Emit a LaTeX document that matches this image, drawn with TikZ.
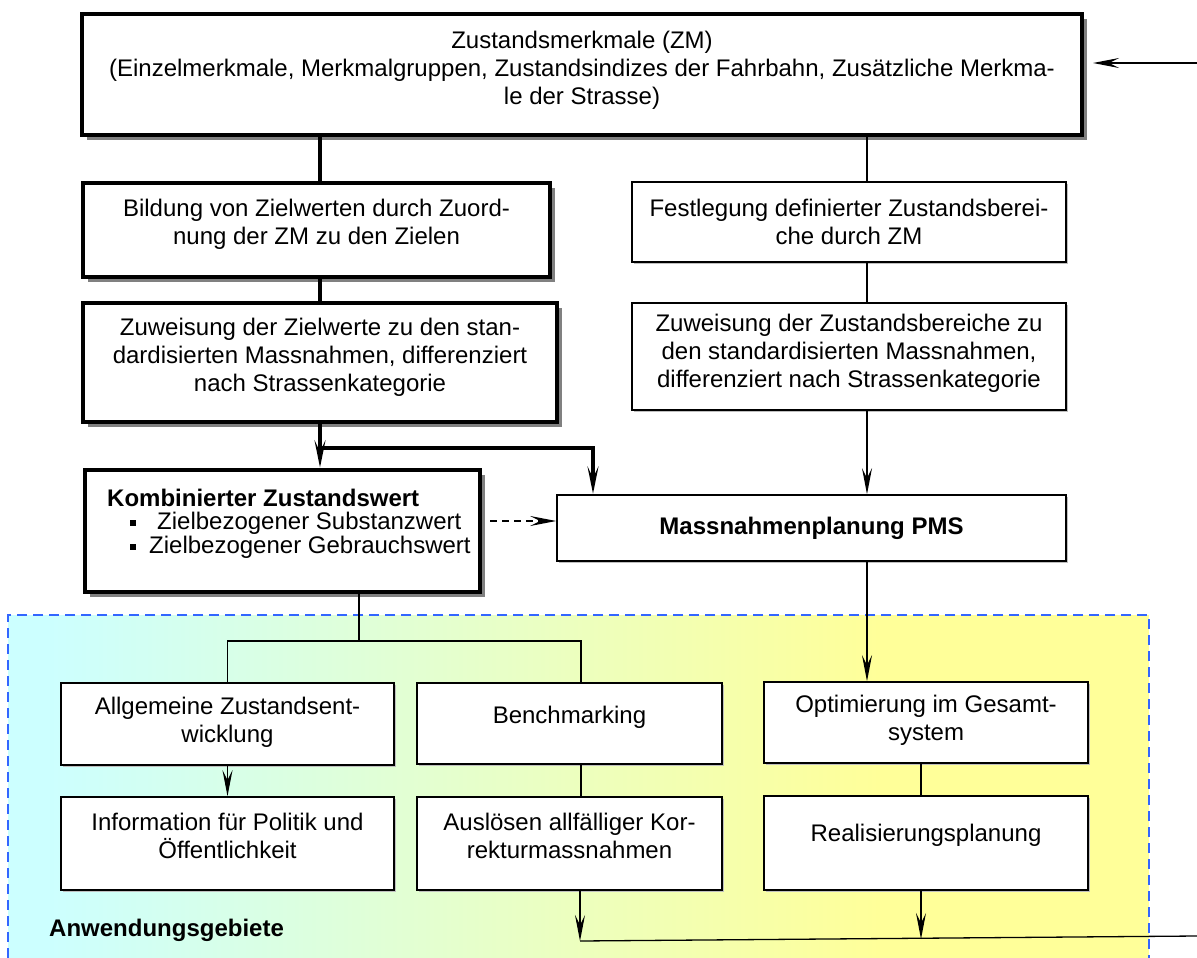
\documentclass[tikz,border=0pt]{standalone}
\usepackage{fontspec}
\setmainfont{Liberation Sans}
\usetikzlibrary{arrows.meta,calc,shadows}
\definecolor{zcyan}{HTML}{CCFFFF}
\definecolor{zgelb}{HTML}{FFFF99}
\definecolor{zblau}{HTML}{3366FF}
\definecolor{zschatten}{HTML}{808080}

\begin{document}
\begin{tikzpicture}[x=1pt,y=-1pt,
  txt/.style={font=\fontsize{24}{28}\selectfont,align=center,inner sep=0pt},
  btxt/.style={font=\fontsize{24}{28}\selectfont\bfseries,inner sep=0pt},
  dickbox/.style={draw,line width=4pt,fill=white,inner sep=0pt,
    general shadow={fill=zschatten,shadow xshift=5pt,shadow yshift=-5pt}},
  duennbox/.style={draw,line width=1.6pt,fill=white,inner sep=0pt,
    general shadow={fill=zschatten!50,shadow xshift=2pt,shadow yshift=-2pt}},
  dicklinie/.style={line width=4pt},
  duennlinie/.style={line width=1.3pt},
  pfeil/.style={-{Stealth[length=26pt,width=10pt,inset=10pt]}}]
  \useasboundingbox (0,0) rectangle (1197,958);
  \clip (0,0) rectangle (1197,958);
  % Anwendungsgebiete: Hintergrund mit Verlauf
  \fill[zcyan] (8,615) rectangle (45,965); % linker Rand, cyan
  \shade[left color=zcyan,right color=zgelb] (45,615) rectangle (880,965); % Verlauf
  \fill[zgelb] (880,615) rectangle (1149,965); % rechter Teil, gelb
  \draw[zblau,line width=2pt,dash pattern=on 10pt off 6pt]
    (1149,965) -- (1149,615) -- (8,615) -- (8,965); % gestrichelter Rahmen
  \node[btxt,anchor=west] (anw) at (49,930) {Anwendungsgebiete};

  % obere Box
  \node[dickbox,minimum width=1000pt,minimum height=121pt] (zm) at (582,74.5) {};
  \node[txt] (zm-t) at (582,70) {Zustandsmerkmale (ZM)\\(Einzelmerkmale, Merkmalgruppen, Zustandsindizes der Fahrbahn, Zusätzliche Merkma-\\le der Strasse)};

  % linke Spalte (fett)
  \node[dickbox,minimum width=467pt,minimum height=94pt] (bild) at (316.5,230) {};
  \node[txt] (bild-t) at (316.5,224) {Bildung von Zielwerten durch Zuord-\\nung der ZM zu den Zielen};
  \node[dickbox,minimum width=474pt,minimum height=119pt] (zuwz) at (320,362.5) {};
  \node[txt] (zuwz-t) at (320,357) {Zuweisung der Zielwerte zu den stan-\\dardisierten Massnahmen, differenziert\\nach Strassenkategorie};
  \node[dickbox,minimum width=395pt,minimum height=122pt] (komb) at (282.5,531) {};
  \node[btxt,anchor=west] (komb-t) at (107,498) {Kombinierter Zustandswert};
  \node[fill,minimum size=6pt,inner sep=0pt] (komb-p1) at (133,523) {}; % Aufzählungszeichen
  \node[fill,minimum size=6pt,inner sep=0pt] (komb-p2) at (133,547) {};
  \node[txt,anchor=west] (komb-b1) at (157,523) {Zielbezogener Substanzwert};
  \node[txt,anchor=west] (komb-b2) at (149,547) {Zielbezogener Gebrauchswert};

  % rechte Spalte (dünn)
  \node[duennbox,minimum width=434pt,minimum height=80pt] (fest) at (849,222) {};
  \node[txt] (fest-t) at (849,222) {Festlegung definierter Zustandsberei-\\che durch ZM};
  \node[duennbox,minimum width=434pt,minimum height=107pt] (zuwb) at (849,356.5) {};
  \node[txt] (zuwb-t) at (849,353) {Zuweisung der Zustandsbereiche zu\\den standardisierten Massnahmen,\\differenziert nach Strassenkategorie};
  \node[duennbox,minimum width=509pt,minimum height=66pt] (mass) at (811.5,528) {};
  \node[btxt] (mass-t) at (811.5,528) {Massnahmenplanung PMS};

  % Anwendungen
  \node[duennbox,minimum width=333pt,minimum height=82pt] (allg) at (227.5,724) {};
  \node[txt] (allg-t) at (227.5,722) {Allgemeine Zustandsent-\\wicklung};
  \node[duennbox,minimum width=305pt,minimum height=81pt] (bench) at (569.5,723.5) {};
  \node[txt] (bench-t) at (569.5,717) {Benchmarking};
  \node[duennbox,minimum width=324pt,minimum height=81pt] (opti) at (926,722.5) {};
  \node[txt] (opti-t) at (926,720.5) {Optimierung im Gesamt-\\system};
  \node[duennbox,minimum width=333pt,minimum height=93pt] (info) at (227.5,843.5) {};
  \node[txt] (info-t) at (227.5,836) {Information für Politik und\\Öffentlichkeit};
  \node[duennbox,minimum width=305pt,minimum height=93pt] (ausl) at (569.5,843.5) {};
  \node[txt] (ausl-t) at (569.5,836) {Auslösen allfälliger Kor-\\rekturmassnahmen};
  \node[duennbox,minimum width=324pt,minimum height=94pt] (real) at (926,843) {};
  \node[txt] (real-t) at (926,835) {Realisierungsplanung};

  % Hilfspunkte
  \coordinate (spL) at (320,0);
  \coordinate (spR) at (867,0);
  \coordinate (spM) at (593,0);
  \coordinate (spK) at (359,0);
  \coordinate (spB) at (581,0);
  \coordinate (spO) at (921,0);
  \coordinate (ein) at (1197,63);
  \coordinate (gabel) at (320,448);
  \coordinate (verz) at (359,641);
  \coordinate (strich) at (0,521);
  \coordinate (ausA) at (580,941);
  \coordinate (ausB) at (921,939);
  \coordinate (ausE) at (1197,936);

  % Verbindungen
  \draw[duennlinie,pfeil] (ein) -- ($(zm.east |- ein)+(9,0)$); % Rückführung
  \draw[dicklinie] (zm.south -| spL) -- (bild.north -| spL);
  \draw[duennlinie] (zm.south -| spR) -- (fest.north -| spR);
  \draw[dicklinie] (bild.south -| spL) -- (zuwz.north -| spL);
  \draw[duennlinie] (fest.south -| spR) -- (zuwb.north -| spR);
  \draw[dicklinie,pfeil] (zuwz.south -| spL) -- (komb.north -| spL);
  \draw[dicklinie,pfeil] (gabel) -| (mass.north -| spM);
  \draw[duennlinie,pfeil] (zuwb.south -| spR) -- (mass.north -| spR);
  \draw[duennlinie,dash pattern=on 7pt off 5pt,pfeil]
    ($(komb.east |- strich)+(8,0)$) -- (mass.west |- strich);
  \draw[duennlinie] (komb.south -| spK) -- (verz);
  \draw[duennlinie] (allg.north) |- (verz) -| (bench.north -| spB);
  \draw[duennlinie,pfeil] (allg.south) -- (info.north);
  \draw[duennlinie] (bench.south -| spB) -- (ausl.north -| spB);
  \draw[duennlinie,pfeil] (mass.south -| spR) -- (opti.north -| spR);
  \draw[duennlinie] (opti.south -| spO) -- (real.north -| spO);
  \draw[duennlinie,pfeil] (ausl.south -| ausA) -- (ausA);
  \draw[duennlinie,pfeil] (real.south -| spO) -- (ausB);
  \draw[duennlinie] (ausA) -- (ausE); % Rückführung unten
\end{tikzpicture}
\end{document}
